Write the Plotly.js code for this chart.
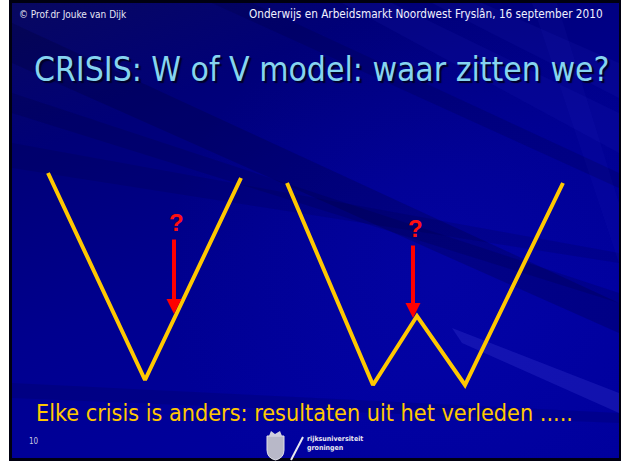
<!DOCTYPE html>
<html><head><meta charset="utf-8">
<script src="https://cdn.plot.ly/plotly-3.0.1.min.js"></script>
<style>html,body{margin:0;padding:0;background:#fff}#chart{width:621px;height:461px}</style>
</head><body><div id="chart"></div>
<script>
// Schematic data (pixel-space units)
const vModelX = [48, 145, 241];
const vModelY = [173, 380, 178];
const wModelX = [287, 373, 417, 465, 563];
const wModelY = [183, 385, 316, 385, 183];
// arrows: x, tail y, tip y
const arrowX = [174, 413];
const arrowTailY = [238, 244];
const arrowTipY = [314, 318];
const questionLabels = ['?', '?'];
const questionY = [222, 228];

const headerLeft = '© Prof.dr Jouke van Dijk';
const headerRight = 'Onderwijs en Arbeidsmarkt Noordwest Fryslân, 16 september 2010';
const titleText = 'CRISIS: W of V model: waar zitten we?';
const footerText = 'Elke crisis is anders: resultaten uit het verleden .....';
const slideNumber = '10';

function makeBg(w, h) {
  const c = document.createElement('canvas'); c.width = w; c.height = h;
  const g = c.getContext('2d');
  const lg = g.createLinearGradient(0, 0, w * 0.3, h);
  lg.addColorStop(0, '#080860');
  lg.addColorStop(0.3, '#000078');
  lg.addColorStop(0.65, '#00008e');
  lg.addColorStop(1, '#00009c');
  g.fillStyle = lg; g.fillRect(0, 0, w, h);
  const rg = g.createRadialGradient(w * 0.7, h * 0.6, 10, w * 0.7, h * 0.6, w * 0.45);
  rg.addColorStop(0, 'rgba(10,10,190,0.3)');
  rg.addColorStop(1, 'rgba(10,10,190,0)');
  g.fillStyle = rg; g.fillRect(0, 0, w, h);
  function band(pts, col) { g.beginPath(); g.moveTo(pts[0][0], pts[0][1]); for (let i = 1; i < pts.length; i++) g.lineTo(pts[i][0], pts[i][1]); g.closePath(); g.fillStyle = col; g.fill(); }
  band([[0, 20], [0, 60], [w, 330], [w, 300]], 'rgba(0,0,40,0.22)');
  band([[0, 90], [0, 110], [w, 300], [w, 290]], 'rgba(0,0,40,0.16)');
  band([[0, 140], [0, 165], [w, 260], [w, 250]], 'rgba(0,0,40,0.14)');
  band([[0, 380], [0, 395], [w, 420], [w, 410]], 'rgba(0,0,40,0.14)');
  band([[330, 0], [380, 0], [w, 110], [w, 150]], 'rgba(40,40,200,0.12)');
  band([[420, 0], [470, 0], [w, 60], [w, 95]], 'rgba(50,50,210,0.1)');
  band([[440, 325], [450, 340], [w, 410], [w, 390]], 'rgba(110,110,255,0.16)');
  band([[520, 0], [545, 0], [w, 200], [w, 260]], 'rgba(50,50,210,0.08)');
  band([[200, 0], [240, 0], [w, 170], [w, 185]], 'rgba(0,0,50,0.18)');
  return c.toDataURL('image/png');
}

const traces = [
  {x: vModelX, y: vModelY, mode: 'lines', line: {color: '#ffc800', width: 4}, hoverinfo: 'skip'},
  {x: wModelX, y: wModelY, mode: 'lines', line: {color: '#ffc800', width: 4}, hoverinfo: 'skip'}
];

const annotations = [];
for (let i = 0; i < arrowX.length; i++) {
  annotations.push({x: arrowX[i], y: arrowTipY[i], ax: arrowX[i], ay: arrowTailY[i], axref: 'x', ayref: 'y', xref: 'x', yref: 'y',
    text: '', showarrow: true, arrowhead: 2, arrowsize: 0.75, arrowwidth: 4, arrowcolor: '#ff0000'});
  annotations.push({x: arrowX[i] + 2, y: questionY[i], xref: 'x', yref: 'y', text: questionLabels[i], showarrow: false,
    font: {family: 'Liberation Sans, Arial', size: 24, color: '#ff1010', weight: 'bold'}, xanchor: 'center', yanchor: 'middle'});
}
const condensed = 'DejaVu Sans Condensed, DejaVu Sans, sans-serif';
annotations.push({x: 17, y: 14, xref: 'x', yref: 'y', text: headerLeft, showarrow: false, xanchor: 'left', yanchor: 'middle',
  font: {family: condensed, size: 10, color: '#e6e6f5'}});
annotations.push({x: 605, y: 14, xref: 'x', yref: 'y', text: headerRight, showarrow: false, xanchor: 'right', yanchor: 'middle',
  font: {family: condensed, size: 11.7, color: '#f0f0ff'}});
annotations.push({x: 32, y: 69, xref: 'x', yref: 'y', text: titleText, showarrow: false, xanchor: 'left', yanchor: 'middle',
  font: {family: condensed, size: 33.4, color: '#86d4f0', shadow: '2px 2px 1px #000028'}});
annotations.push({x: 34, y: 412, xref: 'x', yref: 'y', text: footerText, showarrow: false, xanchor: 'left', yanchor: 'middle',
  font: {family: condensed, size: 23.2, color: '#ffc800'}});
annotations.push({x: 27, y: 441, xref: 'x', yref: 'y', text: slideNumber, showarrow: false, xanchor: 'left', yanchor: 'middle',
  font: {family: condensed, size: 8, color: '#c8c8e0'}});
annotations.push({x: 305, y: 439, xref: 'x', yref: 'y', text: '<b>rijksuniversiteit</b>', showarrow: false, xanchor: 'left', yanchor: 'middle',
  font: {family: condensed, size: 7, color: '#e8e8f0'}});
annotations.push({x: 305, y: 448, xref: 'x', yref: 'y', text: '<b>groningen</b>', showarrow: false, xanchor: 'left', yanchor: 'middle',
  font: {family: condensed, size: 7, color: '#e8e8f0'}});

const shapes = [
  {type: 'rect', xref: 'x', yref: 'y', x0: 9, x1: 621, y0: 0, y1: 461, fillcolor: '#000010', line: {width: 0}, layer: 'below'},
  {type: 'path', xref: 'x', yref: 'y', path: 'M267,436 L284,436 L284,450 Q284,458 275.5,460 Q267,458 267,450 Z', fillcolor: '#b8b8c8', line: {color: '#e0e0ea', width: 1}, layer: 'above'},
  {type: 'path', xref: 'x', yref: 'y', path: 'M269,436 L271,431 L275,434 L280,431 L282,436 Z', fillcolor: '#d0d0dc', line: {width: 0}},
  {type: 'line', xref: 'x', yref: 'y', x0: 291, y0: 460, x1: 303, y1: 437, line: {color: '#e8e8f0', width: 2}}
];

const layout = {
  width: 621, height: 461, margin: {l: 0, r: 0, t: 0, b: 0},
  paper_bgcolor: '#ffffff', plot_bgcolor: 'rgba(0,0,0,0)', showlegend: false,
  xaxis: {range: [0, 621], visible: false, fixedrange: true},
  yaxis: {range: [461, 0], visible: false, fixedrange: true},
  images: [{source: makeBg(607, 455), xref: 'x', yref: 'y', x: 12, y: 3, sizex: 607, sizey: 455, sizing: 'stretch', layer: 'below', xanchor: 'left', yanchor: 'top'}],
  shapes: shapes, annotations: annotations
};
Plotly.newPlot('chart', traces, layout, {staticPlot: true, displayModeBar: false});
</script></body></html>
